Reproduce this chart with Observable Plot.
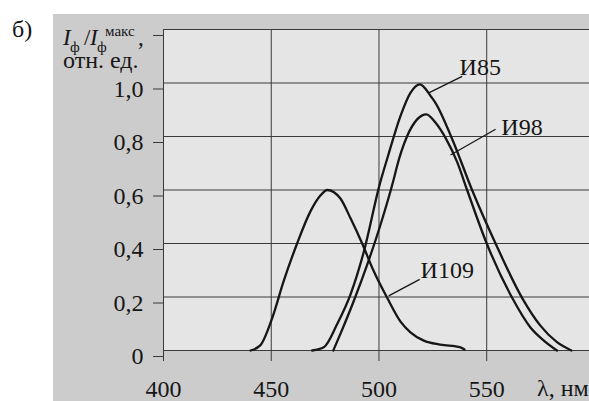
<!DOCTYPE html>
<html>
<head>
<meta charset="utf-8">
<script src="https://cdn.jsdelivr.net/npm/d3@7"></script>
<script src="https://cdn.jsdelivr.net/npm/@observablehq/plot@0.6"></script>
<style>
  html, body { margin: 0; padding: 0; background: #ffffff; }
  #chart svg { display: block; }
</style>
</head>
<body>
<div id="chart"></div>
<script>
// ---- Data ----
const xTicks = [400, 450, 500, 550];
const xTickLabels = ["400", "450", "500", "550"];
const yTicks = [0, 0.2, 0.4, 0.6, 0.8, 1.0, 1.2];
const yTickLabels = ["0", "0,2", "0,4", "0,6", "0,8", "1,0", ""];

// И85 (outer curve)
const wl85 = [469, 474.4, 480.6, 486.8, 493, 500.3, 504.3, 510, 514.6, 519, 521.6, 524, 526.2, 534, 543.2, 554.1, 566.4, 574.9, 582.6, 589.3];
const v85  = [0, 0.012, 0.099, 0.21, 0.37, 0.62, 0.73, 0.877, 0.963, 0.995, 0.978, 0.951, 0.926, 0.79, 0.60, 0.40, 0.197, 0.093, 0.031, 0];

// И98 (inner curve)
const wl98 = [478.8, 482.1, 488.3, 494.5, 500.7, 506.9, 508.4, 513, 517.7, 522, 526.2, 531.2, 536.3, 540.9, 550, 561.8, 570.3, 576.5, 582.6];
const v98  = [0, 0.062, 0.185, 0.32, 0.47, 0.642, 0.69, 0.80, 0.864, 0.883, 0.852, 0.79, 0.704, 0.60, 0.40, 0.197, 0.086, 0.037, 0];

// И109
const wl109 = [440.4, 445, 450.4, 455.8, 462, 468.2, 472.9, 476, 482.1, 486.8, 492.2, 497.6, 503.8, 510, 514.6, 520.8, 528.5, 537.8, 539.7];
const v109  = [0, 0.02, 0.12, 0.26, 0.40, 0.52, 0.58, 0.60, 0.568, 0.494, 0.40, 0.296, 0.197, 0.108, 0.068, 0.037, 0.022, 0.012, 0.004];

// Curve labels and their leader lines (data coordinates)
const labelNames = ["И85", "И98", "И109"];
const labelX = [537.4, 556.8, 519.3];
const labelY = [1.03, 0.804, 0.27];
const leaderX1 = [538.6, 554.1, 518.9];
const leaderY1 = [1.025, 0.827, 0.266];
const leaderX2 = [523.1, 533.2, 504.5];
const leaderY2 = [0.963, 0.731, 0.204];

// ---- Build tables ----
const series = [
  {name: "И85", wl: wl85, v: v85},
  {name: "И98", wl: wl98, v: v98},
  {name: "И109", wl: wl109, v: v109}
];
const rows = series.flatMap(s => s.wl.map((w, i) => ({series: s.name, wl: w, v: s.v[i]})));
const labels = labelNames.map((t, i) => ({t, x: labelX[i], y: labelY[i]}));
const leaders = labelNames.map((t, i) => ({x1: leaderX1[i], y1: leaderY1[i], x2: leaderX2[i], y2: leaderY2[i]}));

const FONT = "'Liberation Serif', 'Times New Roman', Times, serif";
const INK = "#161616";
const GRID = "#3a3a3a";

const chart = Plot.plot({
  width: 589,
  height: 401,
  marginLeft: 163,
  marginRight: 0,
  marginTop: 29,
  marginBottom: 51,
  style: {background: "transparent", fontFamily: FONT, fontSize: "24px", color: INK, overflow: "visible"},
  x: {domain: [400, 597.7], label: null},
  y: {domain: [0, 1.2], label: null},
  marks: [
    Plot.frame({fill: "#e5e5e5", stroke: null}),
    Plot.gridY(yTicks, {stroke: GRID, strokeOpacity: 1, strokeWidth: 1}),
    Plot.gridX(xTicks, {stroke: GRID, strokeOpacity: 1, strokeWidth: 1}),
    Plot.axisY(yTicks, {
      tickSize: 10, tickPadding: 10, dy: 6, stroke: GRID, fill: INK, fontSize: 24,
      tickFormat: d => yTickLabels[yTicks.indexOf(d)]
    }),
    Plot.axisX(xTicks, {
      tickSize: 11, tickPadding: 18, stroke: GRID, fill: INK, fontSize: 24,
      tickFormat: d => xTickLabels[xTicks.indexOf(d)]
    }),
    Plot.line(rows, {x: "wl", y: "v", z: "series", curve: "monotone-x", stroke: INK, strokeWidth: 2.3}),
    Plot.link(leaders, {x1: "x1", y1: "y1", x2: "x2", y2: "y2", stroke: INK, strokeWidth: 1.3}),
    Plot.text(labels, {x: "x", y: "y", text: "t", textAnchor: "start", lineAnchor: "bottom", fontSize: 24, fill: INK})
  ]
});

// ---- Decoration: grey panel behind the plot, panel label, axis titles ----
const svg = d3.select(chart);
svg.insert("rect", ":first-child")
  .attr("x", 53).attr("y", 14).attr("width", 536).attr("height", 387)
  .attr("fill", "#cccccc");

const deco = svg.append("g")
  .attr("font-family", FONT)
  .attr("text-anchor", "start")
  .attr("fill", INK);

deco.append("text").attr("x", 12).attr("y", 37).attr("font-size", 24).text("б)");

const t1 = deco.append("text").attr("font-size", 23);
t1.append("tspan").attr("x", 63).attr("y", 45).attr("font-style", "italic").text("I");
t1.append("tspan").attr("x", 70).attr("y", 52).attr("font-size", 15).text("ф");
t1.append("tspan").attr("x", 84).attr("y", 45).text("/");
t1.append("tspan").attr("x", 90).attr("y", 45).attr("font-style", "italic").text("I");
t1.append("tspan").attr("x", 97).attr("y", 52).attr("font-size", 15).text("ф");
t1.append("tspan").attr("x", 105).attr("y", 36).attr("font-size", 15).text("макс");
t1.append("tspan").attr("x", 138).attr("y", 45).text(",");

deco.append("text").attr("x", 63).attr("y", 68).attr("font-size", 24).text("отн. ед.");

deco.append("text").attr("x", 537).attr("y", 396).attr("font-size", 24).text("λ, нм");

document.getElementById("chart").appendChild(chart);
</script>
</body>
</html>
